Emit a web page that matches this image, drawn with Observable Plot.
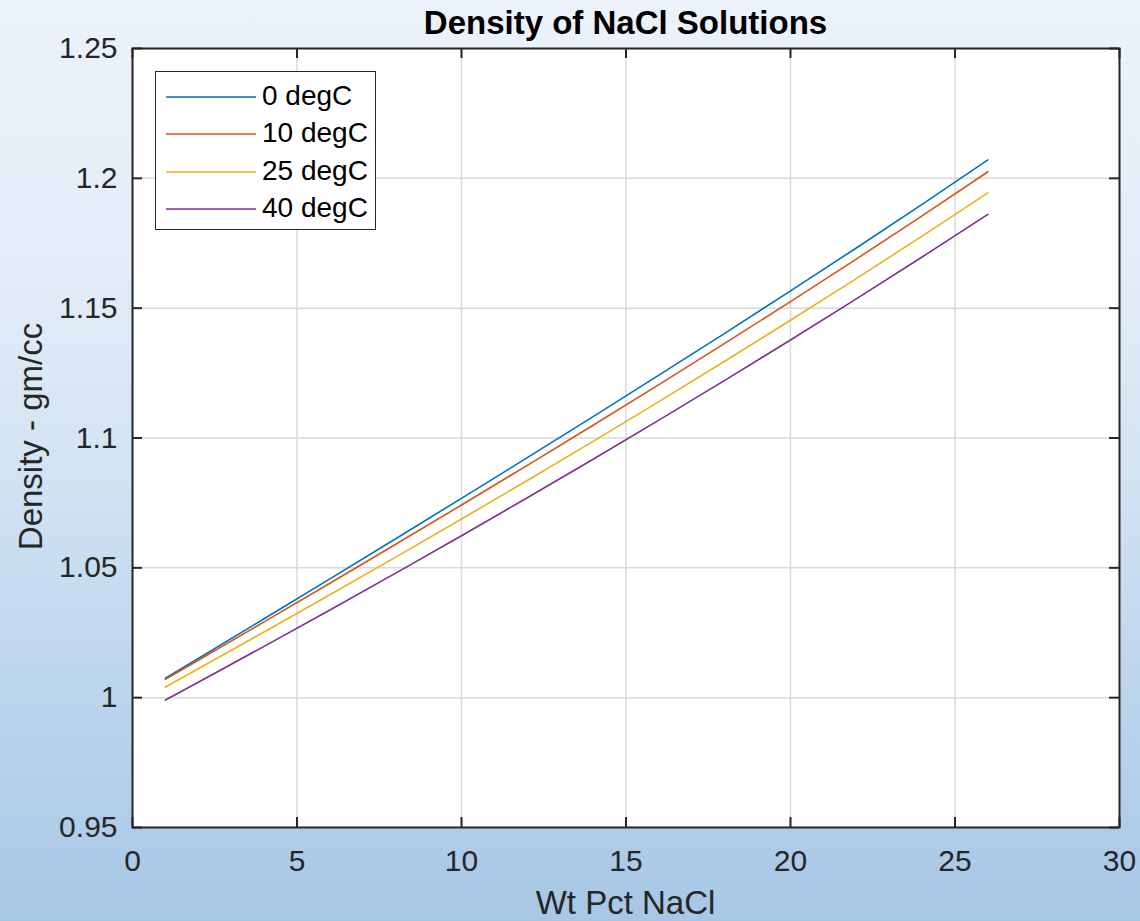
<!DOCTYPE html>
<html>
<head>
<meta charset="utf-8">
<script src="https://cdn.jsdelivr.net/npm/d3@7"></script>
<script src="https://cdn.jsdelivr.net/npm/@observablehq/plot@0.6"></script>
<style>
  body { margin: 0; }
  #wrap {
    position: relative; width: 1140px; height: 921px; overflow: hidden;
    background: linear-gradient(to bottom, #ebf2fa 0%, #e4edf8 28%, #d2e3f3 52%, #bcd5ed 75%, #a7c7e6 100%);
    font-family: "Liberation Sans", Arial, Helvetica, sans-serif;
  }
  #chart { position: absolute; left: 0; top: 0; }
  .lbl { position: absolute; font-size: 33px; line-height: 33px; height: 33px; text-align: center; white-space: nowrap; }
  #title { left: 132px; width: 987px; top: 6px; font-weight: bold; color: #000; }
  #xlabel { left: 132px; width: 987px; top: 886px; color: #262626; }
  #ylabel { left: -170px; width: 400px; top: 420px; color: #262626; transform: rotate(-90deg); }
  #legend {
    position: absolute; left: 155px; top: 71px; width: 219px; height: 157px;
    background: #fff; border: 1px solid #262626;
  }
  .row { position: absolute; left: 0; height: 30px; width: 219px; }
  .row svg { position: absolute; left: 9px; top: 14px; }
  .row span { position: absolute; left: 106px; top: 0; font-size: 28px; line-height: 30px; color: #000; }
</style>
</head>
<body>
<div id="wrap">
  <div id="chart"></div>
  <div id="title" class="lbl">Density of NaCl Solutions</div>
  <div id="xlabel" class="lbl">Wt Pct NaCl</div>
  <div id="ylabel" class="lbl">Density - gm/cc</div>
  <div id="legend"></div>
</div>
<script>
// Weight percent NaCl
const pct = [1, 2, 4, 6, 8, 10, 12, 14, 16, 18, 20, 22, 24, 26];
// Density (g/cc) per temperature
const dens0  = [1.00747, 1.01509, 1.03038, 1.04575, 1.06121, 1.07677, 1.09244, 1.10824, 1.12419, 1.14031, 1.15663, 1.17318, 1.18999, 1.20709];
const dens10 = [1.00707, 1.01442, 1.02920, 1.04408, 1.05907, 1.07419, 1.08946, 1.10491, 1.12056, 1.13643, 1.15254, 1.16891, 1.18557, 1.20254];
const dens25 = [1.00409, 1.01112, 1.02530, 1.03963, 1.05412, 1.06879, 1.08365, 1.09872, 1.11401, 1.12954, 1.14533, 1.16140, 1.17776, 1.19443];
const dens40 = [0.99908, 1.00593, 1.01977, 1.03378, 1.04798, 1.06238, 1.07699, 1.09182, 1.10688, 1.12218, 1.13774, 1.15358, 1.16971, 1.18614];
const seriesNames = ["0 degC", "10 degC", "25 degC", "40 degC"];
const seriesColors = ["#0072BD", "#D95319", "#EDB120", "#7E2F8E"];
const xTicks = [0, 5, 10, 15, 20, 25, 30];
const yTicks = [0.95, 1, 1.05, 1.1, 1.15, 1.2, 1.25];

const seriesValues = [dens0, dens10, dens25, dens40];
const data = seriesNames.flatMap((name, i) =>
  pct.map((p, j) => ({pct: p, density: seriesValues[i][j], series: name})));

const W = 1140, H = 921, mL = 132, mR = 21, mT = 48, mB = 94;
const frameH = H - mT - mB, frameW = W - mL - mR, tickLen = 10;
const axisColor = "#262626";

const chart = Plot.plot({
  width: W, height: H,
  marginLeft: mL, marginRight: mR, marginTop: mT, marginBottom: mB,
  style: {background: "transparent", fontSize: "30px", fontFamily: "'Liberation Sans', Arial, sans-serif", color: axisColor, overflow: "visible"},
  x: {domain: [0, 30]},
  y: {domain: [0.95, 1.25]},
  color: {domain: seriesNames, range: seriesColors},
  marks: [
    Plot.frame({fill: "white", stroke: null}),
    Plot.gridX(xTicks, {stroke: "#dadada", strokeOpacity: 1, strokeWidth: 1.5}),
    Plot.gridY(yTicks, {stroke: "#dadada", strokeOpacity: 1, strokeWidth: 1.5}),
    Plot.lineY(data, {x: "pct", y: "density", stroke: "series", z: "series", strokeWidth: 1.6}),
    Plot.ruleX(xTicks, {x: d => d, insetTop: frameH - tickLen, stroke: axisColor, strokeWidth: 2}),
    Plot.ruleX(xTicks, {x: d => d, insetBottom: frameH - tickLen, stroke: axisColor, strokeWidth: 2}),
    Plot.ruleY(yTicks, {y: d => d, insetRight: frameW - tickLen, stroke: axisColor, strokeWidth: 2}),
    Plot.ruleY(yTicks, {y: d => d, insetLeft: frameW - tickLen, stroke: axisColor, strokeWidth: 2}),
    Plot.axisX(xTicks, {anchor: "bottom", tickSize: 0, tickPadding: 22, label: null, tickFormat: d => String(d)}),
    Plot.axisY(yTicks, {anchor: "left", tickSize: 0, tickPadding: 15, label: null, tickFormat: d => String(+d.toFixed(2))}),
    Plot.frame({stroke: axisColor, strokeWidth: 2})
  ]
});
document.getElementById("chart").appendChild(chart);

// Legend
const legend = document.getElementById("legend");
const rowTops = [9, 46, 84, 121];
seriesNames.forEach((name, i) => {
  const row = document.createElement("div");
  row.className = "row";
  row.style.top = rowTops[i] + "px";
  row.innerHTML = `<svg width="92" height="4"><line x1="1" x2="91" y1="2" y2="2" stroke="${seriesColors[i]}" stroke-width="1.6"/></svg><span>${name}</span>`;
  legend.appendChild(row);
});
</script>
</body>
</html>
